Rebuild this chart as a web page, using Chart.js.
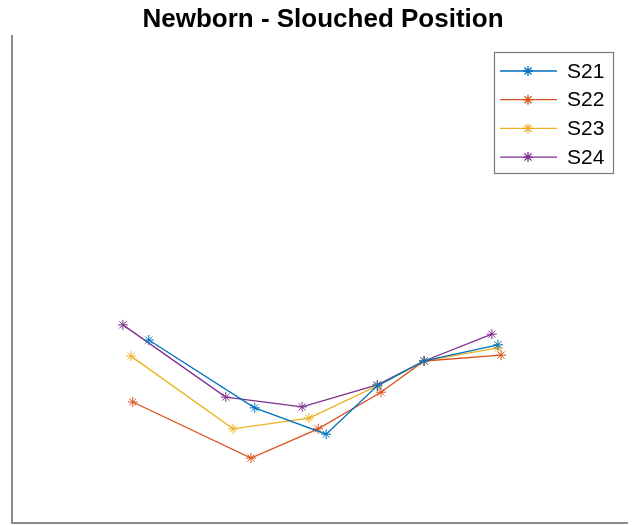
<!DOCTYPE html>
<html>
<head>
<meta charset="utf-8">
<script src="https://cdn.jsdelivr.net/npm/chart.js@4"></script>
<style>
  html, body { margin: 0; padding: 0; background: #fff; overflow: hidden; }
  canvas { display: block; }
</style>
</head>
<body>
<canvas id="chart" width="633" height="525"></canvas>
<script>
// --- Data (arbitrary 0-100 units, no ticks shown) ---
const seriesNames = ['S21', 'S22', 'S23', 'S24'];
const seriesColors = ['#0072BD', '#D95319', '#EDB120', '#7E2F8E'];

const s21X = [22.2, 39.4, 51.0, 59.3, 66.9, 78.9];
const s21Y = [37.5, 23.6, 18.2, 28.1, 33.2, 36.5];

const s22X = [19.6, 38.8, 49.7, 59.9, 66.9, 79.4];
const s22Y = [24.8, 13.3, 19.3, 26.8, 33.2, 34.4];

const s23X = [19.3, 35.9, 48.2, 59.3, 66.9, 78.9];
const s23Y = [34.2, 19.3, 21.5, 28.1, 33.2, 35.9];

const s24X = [18.0, 34.7, 47.1, 59.3, 66.9, 77.9];
const s24Y = [40.6, 25.8, 23.8, 28.3, 33.2, 38.7];

const chartTitle = 'Newborn - Slouched Position';

const xs = [s21X, s22X, s23X, s24X];
const ys = [s21Y, s22Y, s23Y, s24Y];

const datasets = seriesNames.map((name, i) => ({
    label: name,
    data: xs[i].map((x, j) => ({ x: x, y: ys[i][j] })),
    showLine: true,
    borderColor: seriesColors[i],
    backgroundColor: seriesColors[i],
    borderWidth: 1.3,
    pointStyle: 'star',
    pointRadius: 5,
    pointBorderWidth: 1,
    pointBorderColor: seriesColors[i],
    pointHoverRadius: 5
}));

// title, axes frame and boxed legend drawn MATLAB style
const matlabDecor = {
    id: 'matlabDecor',
    afterDraw(chart) {
        const ctx = chart.ctx;
        const a = chart.chartArea;
        ctx.save();

        // axes lines (left + bottom)
        ctx.strokeStyle = '#8c8c8c';
        ctx.lineWidth = 2;
        ctx.beginPath();
        ctx.moveTo(a.left, a.top);
        ctx.lineTo(a.left, a.bottom);
        ctx.lineTo(a.right, a.bottom);
        ctx.stroke();

        // title
        ctx.fillStyle = '#000';
        ctx.font = 'bold 26px "Liberation Sans", Arial, sans-serif';
        ctx.textAlign = 'center';
        ctx.textBaseline = 'alphabetic';
        ctx.fillText(chartTitle, 323, 27);

        // legend box
        const bx = 494, by = 52, bw = 119, bh = 121;
        ctx.fillStyle = '#fff';
        ctx.fillRect(bx, by, bw, bh);
        ctx.strokeStyle = '#7a7a7a';
        ctx.lineWidth = 1.2;
        ctx.strokeRect(bx + 0.5, by + 0.5, bw, bh);

        ctx.font = '21px "Liberation Sans", Arial, sans-serif';
        ctx.textAlign = 'left';
        ctx.textBaseline = 'middle';
        chart.data.datasets.forEach((ds, i) => {
            const yy = 71 + i * 28.7;
            ctx.strokeStyle = ds.borderColor;
            ctx.lineWidth = 1.3;
            ctx.beginPath();
            ctx.moveTo(500, yy);
            ctx.lineTo(557, yy);
            ctx.stroke();
            Chart.helpers.drawPoint(ctx, {
                pointStyle: 'star', radius: 5, borderWidth: 1, rotation: 0
            }, 528, yy);
            ctx.fillStyle = '#000';
            ctx.fillText(ds.label, 567, yy + 1);
        });
        ctx.restore();
    }
};

new Chart(document.getElementById('chart'), {
    type: 'scatter',
    data: { datasets: datasets },
    options: {
        responsive: false,
        animation: false,
        layout: { autoPadding: false, padding: { left: 12, right: 5, top: 35, bottom: 2 } },
        plugins: {
            legend: { display: false },
            title: { display: false },
            tooltip: { enabled: false }
        },
        scales: {
            x: { display: false, min: 0, max: 100 },
            y: { display: false, min: 0, max: 100 }
        }
    },
    plugins: [matlabDecor]
});
</script>
</body>
</html>
